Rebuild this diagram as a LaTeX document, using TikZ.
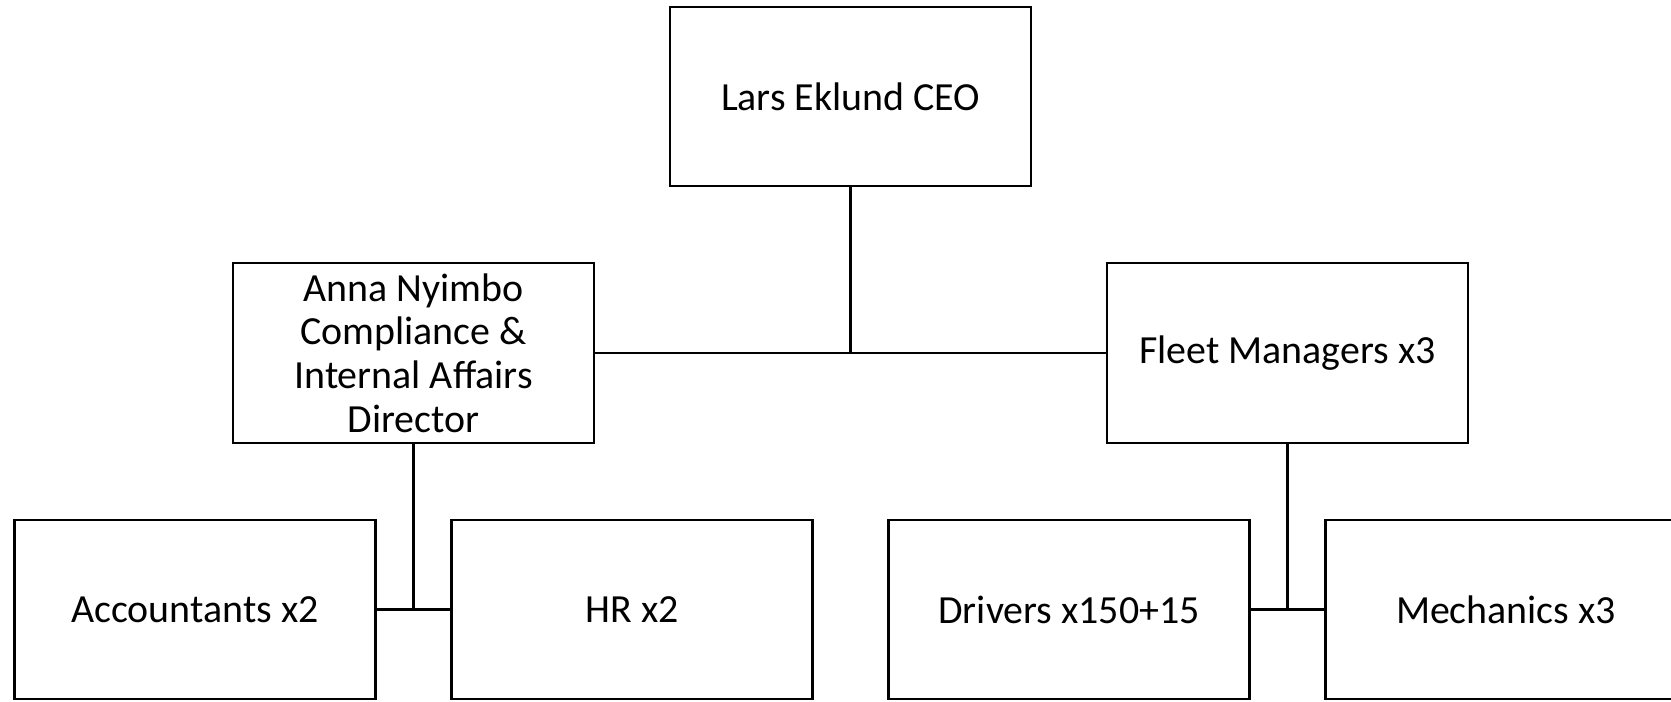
\documentclass[tikz,border=0pt]{standalone}
\usepackage{fontspec}
\setmainfont{Carlito}
\usetikzlibrary{positioning}

\begin{document}
\begin{tikzpicture}[
    font=\fontsize{22.7}{24.8}\selectfont,
    node distance=1.54cm and 1.52cm,
    role/.style={draw, line width=1.2pt, align=center, outer sep=0pt,
                 minimum width=7.22cm, minimum height=3.59cm, inner sep=2pt},
    link/.style={line width=1.2pt}
]
\useasboundingbox (0,0) rectangle (33.42,-14.02);

% 1) top
\node[role] (ceo) at (17.01,-1.929) {Lars Eklund CEO};

% 2) directors
\node[role, below left=of ceo] (anna) {Anna Nyimbo\\Compliance \&\\Internal Affairs\\Director};
\node[role, below right=of ceo] (fleet) {Fleet Managers x3};
\draw[link] (anna.east) -- (fleet.west);
\draw[link] (ceo.south) -- (ceo.south |- anna.east);

% 3) staff under Anna
\node[role, below=of anna, xshift=-4.37cm] (acc) {Accountants x2};
\node[role, right=1.52cm of acc] (hr) {HR x2};
\draw[link] (acc.east) -- (hr.west);
\draw[link] (anna.south) -- (anna.south |- acc.east);

% 4) staff under fleet managers
\node[role, below=of fleet, xshift=-4.37cm] (drivers) {Drivers x150+15};
\node[role, right=1.52cm of drivers] (mech) {Mechanics x3};
\draw[link] (drivers.east) -- (mech.west);
\draw[link] (fleet.south) -- (fleet.south |- drivers.east);
\end{tikzpicture}
\end{document}
